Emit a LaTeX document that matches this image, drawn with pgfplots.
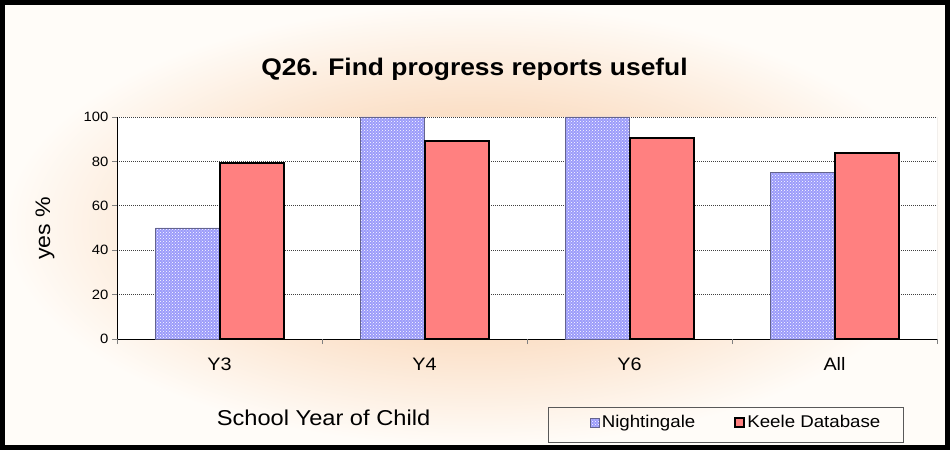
\documentclass[border=0pt]{standalone}
\usepackage{pgfplots}
\pgfplotsset{compat=1.18}
\usepackage{fontspec}
\setmainfont{Liberation Sans}[FakeStretch=1.1]
\usetikzlibrary{patterns}
\definecolor{ngfill}{RGB}{155,155,250}
\definecolor{ngedge}{RGB}{100,100,140}
\definecolor{kdfill}{RGB}{255,128,128}
\definecolor{peach}{RGB}{251,224,200}
\definecolor{offwhite}{RGB}{255,252,248}
\pgfdeclareradialshading{glow}{\pgfpoint{0bp}{0bp}}{color(0bp)=(peach); color(13bp)=(peach); color(25bp)=(offwhite); color(50bp)=(offwhite)}
\pgfplotsset{every axis plot post/.append style={legend image code/.code={\draw[##1] (0pt,-4.5pt) rectangle (9pt,4.5pt);}}}
\begin{document}
\begin{tikzpicture}[x=1pt,y=1pt]
\useasboundingbox (0,0) rectangle (950,450);
\shade[shading=glow] (4,4) rectangle (946,446);
\begin{axis}[
  at={(117pt,111pt)}, anchor=south west, scale only axis,
  width=820pt, height=222pt,
  xmin=-0.5, xmax=3.5, ymin=0, ymax=100,
  ybar=0pt, bar width=64pt,
  axis background/.style={fill=white},
  axis x line*=bottom, axis y line*=left,
  axis line style={-, black, line width=0.8pt},
  tick align=outside, major tick length=5pt,
  xtick={0,1,2,3}, xticklabels={Y3,Y4,Y6,All},
  x tick style={draw=none},
  extra x ticks={-0.5,0.5,1.5,2.5,3.5}, extra x tick labels={},
  extra x tick style={x tick style={draw=gray, line width=0.6pt}},
  ytick={0,20,40,60,80,100},
  y tick style={draw=gray, line width=0.6pt},
  ymajorgrids,
  major grid style={dash pattern=on 1pt off 1pt, black!75, line width=0.6pt},
  /pgf/number format/assume math mode=true,
  xticklabel style={font=\fontsize{18}{21}\selectfont, anchor=base, yshift=-26pt},
  yticklabel style={font=\fontsize{13.5}{16}\selectfont},
  legend style={at={(0.5768,-0.376)}, anchor=west, draw=none, fill=none,
    font=\fontsize{17}{20}\selectfont, inner sep=0pt,
    /tikz/every even column/.append style={column sep=37pt}},
  legend columns=2,
]
\addplot[fill=ngfill, draw=ngedge, line width=0.6pt,
  postaction={pattern=crosshatch dots, pattern color=white}]
  coordinates {(0,50) (1,100) (2,100) (3,75)};
\addplot[fill=kdfill, draw=black, line width=2pt]
  coordinates {(0,79.5) (1,89) (2,90.5) (3,84)};
\legend{Nightingale, Keele Database}
\draw[gray!80, line width=0.8pt] (rel axis cs:1,0) -- (rel axis cs:1,1);
\end{axis}
\node[font=\bfseries\fontsize{24}{28}\selectfont, anchor=base] at (474.5,374) {Q26. Find progress reports useful};
\node[font=\fontsize{21.5}{25}\selectfont, anchor=base] at (323.5,25) {School Year of Child};
\node[font=\fontsize{21}{25}\selectfont, rotate=90] at (45,221.5) {yes \%};
\draw[gray!70!black, line width=0.8pt] (548,8) rectangle (903,43);
\draw[black, line width=5pt] (2.5,2.5) rectangle (947.5,447.5);
\end{tikzpicture}
\end{document}
